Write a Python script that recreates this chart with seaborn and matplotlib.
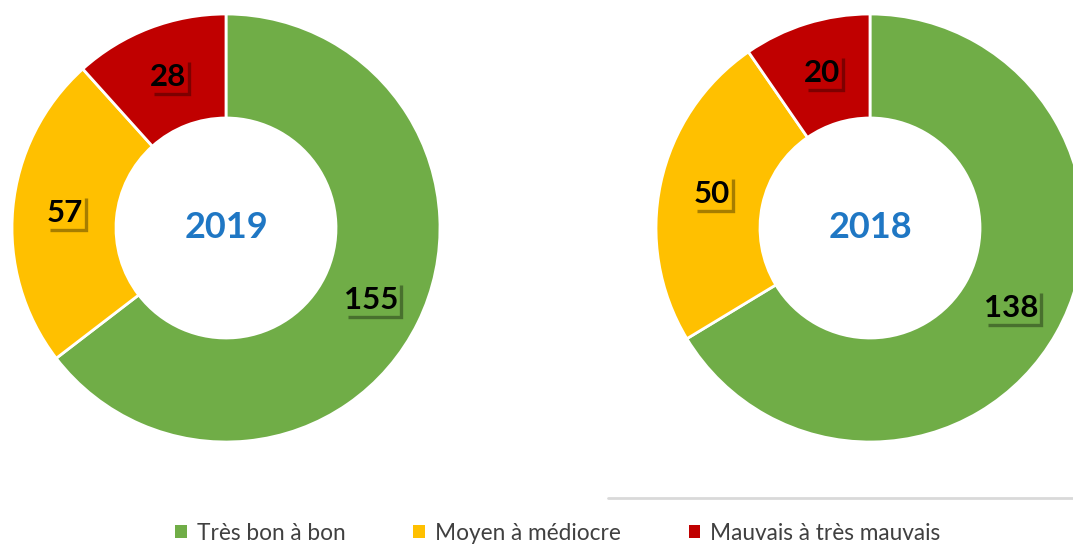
import matplotlib
matplotlib.use("Agg")
import matplotlib.pyplot as plt
from matplotlib.patches import Patch
from matplotlib.lines import Line2D
import seaborn as sns

# Data
categories = ["Très bon à bon", "Moyen à médiocre", "Mauvais à très mauvais"]
years = ["2019", "2018"]
values_2019 = [155, 57, 28]
values_2018 = [138, 50, 20]
colors = ["#70AD47", "#FFC000", "#C00000"]

sns.set_theme(style="white")
plt.rcParams["font.family"] = ["Lato", "DejaVu Sans"]

W, H = 1073, 545
fig = plt.figure(figsize=(W / 100, H / 100), dpi=100)
fig.patch.set_facecolor("white")

R_OUT = 214   # outer radius in px
R_IN = 110    # inner radius in px
ring_width = (R_OUT - R_IN) / R_OUT
label_r = 1 - ring_width / 2

centers = [(226, 228), (870, 228)]  # px, from top-left
series = [values_2019, values_2018]

label_texts = []
for (cx, cy), vals, yr in zip(centers, series, years):
    left = (cx - R_OUT) / W
    bottom = (H - cy - R_OUT) / H
    ax = fig.add_axes([left, bottom, 2 * R_OUT / W, 2 * R_OUT / H])
    wedges, texts = ax.pie(
        vals, colors=colors, startangle=90, counterclock=False,
        radius=1, labels=[str(v) for v in vals], labeldistance=label_r,
        wedgeprops=dict(width=ring_width, edgecolor="white", linewidth=2),
        textprops=dict(fontsize=22.5, fontweight="bold", color="black",
                       ha="center", va="center"),
    )
    ax.set_xlim(-1, 1)
    ax.set_ylim(-1, 1)
    ax.set_aspect("equal")
    ax.axis("off")
    ax.text(0, 0, yr, ha="center", va="center", fontsize=26,
            fontweight="bold", color="#1F77C4")
    for t in texts:
        label_texts.append((ax, t))

# Gray rule under the right chart
fig.add_artist(Line2D([608 / W, 1.0], [(H - 498) / H] * 2,
                      color="#D9D9D9", linewidth=2, transform=fig.transFigure))

# Legend
handles = [Patch(facecolor=c, edgecolor="none", label=l) for c, l in zip(colors, categories)]
fig.legend(handles=handles, loc="center", bbox_to_anchor=(558 / W, (H - 533) / H),
           ncol=3, frameon=False, fontsize=16.3, handlelength=0.5, handleheight=0.5,
           handletextpad=0.45, columnspacing=3.0, labelcolor="#404040")

# L-shaped shadow outline around each value label
fig.canvas.draw()
renderer = fig.canvas.get_renderer()
for ax, t in label_texts:
    bb = t.get_window_extent(renderer)
    x0, x1 = bb.x0 + 4, bb.x1 + 3
    ytop, ybot = bb.y1 + 1, bb.y0 - 3
    inv = ax.transData.inverted()
    p_tr = inv.transform((x1, ytop))
    p_br = inv.transform((x1, ybot))
    p_bl = inv.transform((x0, ybot))
    ax.plot([p_tr[0], p_br[0], p_bl[0]], [p_tr[1], p_br[1], p_bl[1]],
            color="black", alpha=0.35, linewidth=2.4, solid_capstyle="butt",
            solid_joinstyle="miter")

fig.savefig("out.png", dpi=100, facecolor="white")
